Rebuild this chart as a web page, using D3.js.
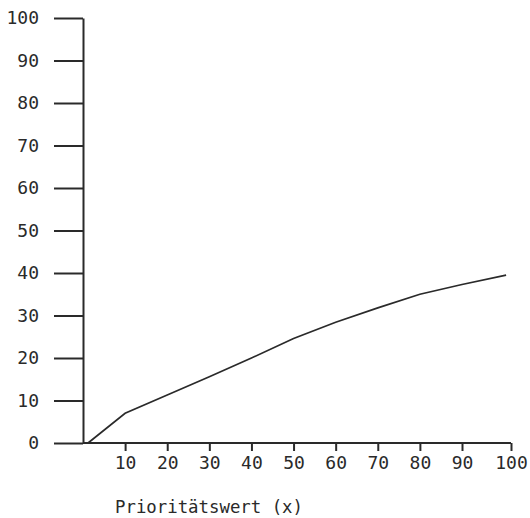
<!DOCTYPE html>
<html>
<head>
<meta charset="utf-8">
<script src="https://cdn.jsdelivr.net/npm/d3@7"></script>
<style>
  body { margin: 0; background: #fff; }
  svg text { font-family: "DejaVu Sans Mono", "Liberation Mono", monospace; fill: #2a2a2a; }
</style>
</head>
<body>
<svg width="530" height="518"></svg>
<script>
// values
const xValues = [1.2, 10, 20, 30, 40, 50, 60, 70, 80, 90, 99];
const yValues = [0, 7, 11.3, 15.6, 20, 24.6, 28.4, 31.8, 35, 37.3, 39.5];
const xTicks = [10, 20, 30, 40, 50, 60, 70, 80, 90, 100];
const yTicks = [0, 10, 20, 30, 40, 50, 60, 70, 80, 90, 100];
const xLabel = "Prioritätswert (x)";

const svg = d3.select("svg");

// the scanned x axis has a longer last interval, so the scale is piecewise
const x = d3.scaleLinear().domain([0, 90, 100]).range([83, 462, 511]);
const y = d3.scaleLinear().domain([0, 100]).range([443, 18]);

const ink = "#2a2a2a";

// y axis, ticks pointing left
const yAxis = svg
  .append("g")
  .attr("transform", `translate(${x(0)},0)`)
  .call(d3.axisLeft(y).tickValues(yTicks).tickSize(29).tickSizeOuter(0).tickPadding(15));

// x axis, short ticks pointing down
const xAxis = svg
  .append("g")
  .attr("transform", `translate(0,${y(0)})`)
  .call(d3.axisBottom(x).tickValues(xTicks).tickSize(8).tickSizeOuter(0).tickPadding(5));

[yAxis, xAxis].forEach((g) => {
  g.select(".domain").attr("stroke", ink).attr("stroke-width", 2);
  g.selectAll(".tick line").attr("stroke", ink).attr("stroke-width", 2);
  g.selectAll(".tick text").attr("font-size", 18).attr("fill", ink);
});

// x axis domain starts at the y axis
xAxis.select(".domain").attr("d", `M${x(0)},0H${x(100)}`);

const line = d3
  .line()
  .x((d, i) => x(xValues[i]))
  .y((d) => y(d));

svg
  .append("path")
  .datum(yValues)
  .attr("fill", "none")
  .attr("stroke", ink)
  .attr("stroke-width", 1.7)
  .attr("d", line);

svg
  .append("text")
  .attr("x", 115)
  .attr("y", 513)
  .attr("font-size", 18)
  .attr("textLength", 188)
  .attr("lengthAdjust", "spacingAndGlyphs")
  .text(xLabel);
</script>
</body>
</html>
